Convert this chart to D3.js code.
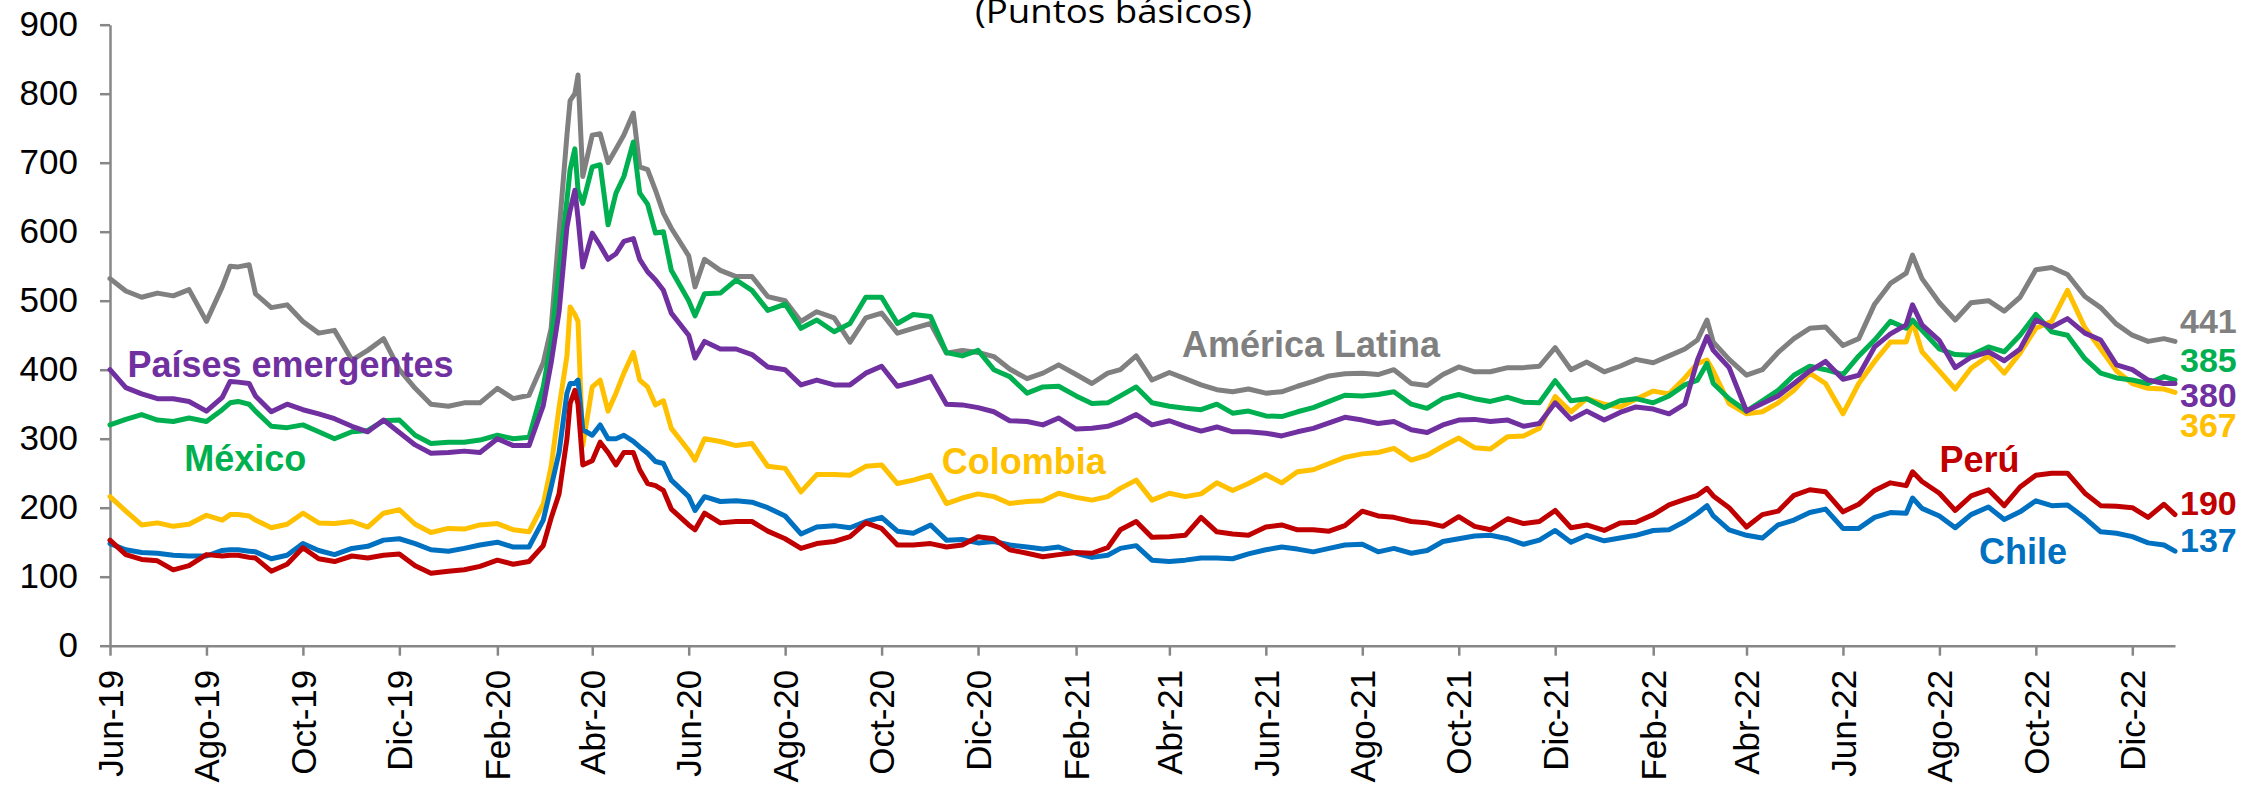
<!DOCTYPE html>
<html><head><meta charset="utf-8">
<script src="https://cdn.jsdelivr.net/npm/d3@7"></script>
<style>body{margin:0;background:#fff}svg{display:block}</style>
</head><body><svg id="c" width="2242" height="785"></svg>
<script>
const dates = [
"2019-06-01","2019-06-11","2019-06-21","2019-07-01","2019-07-11","2019-07-21","2019-08-01","2019-08-11","2019-08-16","2019-08-21","2019-08-28","2019-09-01","2019-09-11","2019-09-21","2019-10-01","2019-10-11","2019-10-21","2019-11-01","2019-11-11","2019-11-21","2019-12-01","2019-12-11","2019-12-21",
"2020-01-01","2020-01-11","2020-01-21","2020-02-01","2020-02-11","2020-02-21","2020-03-01","2020-03-06","2020-03-11","2020-03-16","2020-03-18","2020-03-21","2020-03-23","2020-03-26","2020-04-01","2020-04-06","2020-04-11","2020-04-16","2020-04-21","2020-04-27","2020-05-01","2020-05-06","2020-05-11","2020-05-16","2020-05-21","2020-06-01","2020-06-05","2020-06-11","2020-06-21","2020-07-01","2020-07-11","2020-07-21","2020-08-01","2020-08-11","2020-08-21","2020-09-01","2020-09-11","2020-09-21","2020-10-01","2020-10-11","2020-10-21","2020-11-01","2020-11-11","2020-11-21","2020-12-01","2020-12-11","2020-12-21",
"2021-01-01","2021-01-11","2021-01-21","2021-02-01","2021-02-11","2021-02-21","2021-03-01","2021-03-11","2021-03-21","2021-04-01","2021-04-11","2021-04-21","2021-05-01","2021-05-11","2021-05-21","2021-06-01","2021-06-11","2021-06-21","2021-07-01","2021-07-11","2021-07-21","2021-08-01","2021-08-11","2021-08-21","2021-09-01","2021-09-11","2021-09-21","2021-10-01","2021-10-11","2021-10-21","2021-11-01","2021-11-11","2021-11-21","2021-12-01","2021-12-11","2021-12-21",
"2022-01-01","2022-01-11","2022-01-21","2022-02-01","2022-02-11","2022-02-21","2022-03-01","2022-03-07","2022-03-11","2022-03-21","2022-04-01","2022-04-11","2022-04-21","2022-05-01","2022-05-11","2022-05-21","2022-06-01","2022-06-11","2022-06-21","2022-07-01","2022-07-11","2022-07-15","2022-07-21","2022-08-01","2022-08-11","2022-08-21","2022-09-01","2022-09-11","2022-09-21","2022-10-01","2022-10-11","2022-10-21","2022-11-01","2022-11-11","2022-11-21","2022-12-01","2022-12-11","2022-12-21","2022-12-28"
];

const americaLatina = [
532,514,505,511,507,516,470,520,550,549,552,510,490,494,470,453,457,414,428,445,400,373,350,
347,352,352,373,358,363,410,460,600,740,790,800,827,680,740,742,700,720,740,772,694,690,660,627,605,565,520,560,544,535,535,506,500,470,484,475,440,475,482,453,460,467,424,428,425,419,401,
387,395,407,393,380,395,400,420,385,396,387,378,371,368,372,366,368,376,383,391,394,395,393,400,380,377,393,404,397,397,403,403,405,432,400,411,
397,405,415,410,420,430,443,472,440,415,392,400,425,445,460,462,435,445,495,525,540,566,532,497,472,497,500,485,505,545,548,538,506,490,466,450,441,445,441
];

const mexico = [
320,328,335,327,325,330,325,342,352,354,350,340,318,316,320,310,300,310,312,326,327,305,293,
295,295,298,305,300,302,375,440,545,646,690,720,660,641,694,697,610,656,680,730,656,640,598,600,544,500,478,510,511,530,515,486,495,460,472,455,467,505,505,467,480,477,425,420,428,400,390,
366,375,376,362,351,352,362,375,352,347,344,342,350,337,340,333,332,339,345,354,363,362,364,368,350,344,358,364,358,354,360,353,352,384,355,358,
345,355,358,352,362,378,385,409,380,358,340,355,370,392,405,400,393,420,443,470,460,472,457,430,422,421,433,426,450,480,455,450,416,395,388,385,380,390,385
];

const paisesEmergentes = [
400,374,365,358,358,354,340,360,383,382,380,362,339,350,342,336,329,318,310,327,309,291,279,
280,282,280,300,290,290,348,410,484,607,631,660,620,549,598,580,560,568,586,590,560,542,530,515,482,450,417,441,430,430,422,404,400,378,385,378,378,395,405,376,382,390,350,349,345,339,326,
325,320,330,314,315,318,324,335,320,326,318,311,317,310,310,308,304,310,315,323,331,327,322,325,313,309,320,327,328,325,327,318,322,352,328,340,
327,338,346,343,336,350,414,448,428,403,340,351,362,380,398,412,386,392,433,452,465,494,465,442,403,418,426,413,430,472,462,474,453,443,407,400,385,380,380
];

const colombia = [
216,195,175,178,173,176,189,182,190,190,188,182,171,176,192,178,177,180,172,192,197,176,164,
170,169,175,177,168,165,205,260,345,420,491,480,470,290,375,385,340,366,395,425,385,375,349,355,315,283,269,300,296,290,293,260,257,223,248,248,247,260,262,235,240,247,206,214,220,216,206,
209,210,221,215,211,216,228,240,211,221,216,220,236,225,235,248,236,252,255,264,273,278,280,286,269,276,289,301,287,285,303,304,315,361,339,358,
350,346,357,369,365,388,409,414,398,351,336,339,352,370,395,380,336,380,412,440,440,470,426,398,372,402,420,395,424,460,470,515,461,430,398,380,373,372,367
];

const chile = [
148,139,135,134,131,130,130,138,139,139,137,136,126,131,148,138,132,141,144,153,155,148,139,
137,141,146,150,143,143,182,230,280,366,380,380,385,313,305,320,300,300,305,296,288,279,267,264,240,216,196,216,209,210,208,200,188,162,172,174,171,180,186,166,163,175,153,154,149,151,146,
143,140,143,134,128,131,141,145,124,122,124,127,127,126,133,139,143,140,136,141,146,147,136,141,134,138,151,155,159,160,155,147,153,167,150,160,
152,156,160,167,168,180,192,203,188,168,160,156,175,182,193,198,170,170,186,193,192,214,199,188,171,190,201,183,194,210,203,204,185,165,163,158,149,146,137
];

const peru = [
153,132,125,123,110,116,132,130,131,131,128,127,108,118,142,126,122,130,127,131,133,116,105,
108,110,115,124,118,122,145,185,220,300,351,370,350,262,268,295,280,262,280,280,255,235,232,225,198,175,168,192,178,180,180,166,155,141,148,151,158,178,170,146,146,148,143,146,158,155,139,
134,129,132,135,134,142,168,180,157,158,160,186,165,162,160,172,175,168,168,166,174,195,188,186,180,178,173,187,173,168,184,177,180,196,171,175,
167,178,179,190,204,212,218,228,217,200,172,190,195,218,226,223,194,205,225,236,232,252,238,221,196,217,226,203,230,247,250,250,221,203,202,200,186,205,190
];

const monthNames = ["Ene","Feb","Mar","Abr","May","Jun","Jul","Ago","Sep","Oct","Nov","Dic"];
const yTicks = [0,100,200,300,400,500,600,700,800,900];
const titleText = "(Puntos básicos)";

const series = [
  {key:"americaLatina", label:"América Latina", values:americaLatina, color:"#808080"},
  {key:"colombia", label:"Colombia", values:colombia, color:"#FFC000"},
  {key:"mexico", label:"México", values:mexico, color:"#00B050"},
  {key:"chile", label:"Chile", values:chile, color:"#0070C0"},
  {key:"peru", label:"Perú", values:peru, color:"#C00000"},
  {key:"paisesEmergentes", label:"Países emergentes", values:paisesEmergentes, color:"#7030A0"}
];

const parse = d3.utcParse("%Y-%m-%d");
const D = dates.map(parse);
const svg = d3.select("#c");
const FONT = "'Liberation Sans', Arial, sans-serif";

const x = d3.scaleUtc().domain([D[0], D[D.length-1]]).range([110, 2175]);
const y = d3.scaleLinear().domain([0, 900]).range([645.7, 24.7]);

// title
svg.append("text").attr("x", 1113.5).attr("y", 23)
  .attr("text-anchor","middle").attr("font-family","'Open Sans','Noto Sans',sans-serif")
  .attr("font-size", 33).attr("textLength", 277).attr("lengthAdjust","spacingAndGlyphs")
  .attr("fill","#000").text(titleText);

// axes
const axisColor = "#878787";
const yAxis = d3.axisLeft(y).tickValues(yTicks).tickSize(10).tickSizeOuter(0).tickPadding(22);
const gy = svg.append("g").attr("transform","translate(110,0)").call(yAxis);
gy.selectAll("text").attr("font-size", 35).attr("font-family", FONT).attr("fill","#000");

const xTicks = d3.utcMonth.range(parse("2019-06-01"), D[D.length-1], 2);
const fmt = d => monthNames[d.getUTCMonth()] + "-" + String(d.getUTCFullYear()).slice(2);
const xAxis = d3.axisBottom(x).tickValues(xTicks).tickFormat(fmt).tickSize(10).tickSizeOuter(0);
const gx = svg.append("g").attr("transform","translate(0,645.7)").call(xAxis);
gx.selectAll("text")
  .attr("transform","rotate(-90)").attr("x",-24).attr("y",0).attr("dy","0.35em")
  .attr("text-anchor","end").attr("font-size",35).attr("font-family",FONT).attr("fill","#000");

[gx, gy].forEach(g => {
  g.select(".domain").attr("stroke", axisColor).attr("stroke-width", 2.5);
  g.selectAll(".tick line").attr("stroke", axisColor).attr("stroke-width", 2.5);
});

// lines
const line = d3.line().x((d,i) => x(D[i])).y(d => y(d));
svg.append("g").selectAll("path").data(series).join("path")
  .attr("d", s => line(s.values))
  .attr("fill","none").attr("stroke", s => s.color)
  .attr("stroke-width", 5).attr("stroke-linejoin","round").attr("stroke-linecap","round");

// inline labels (anchored in data space)
const colorOf = k => series.find(s => s.key === k).color;
const labels = [
  {key:"paisesEmergentes", text:"Países emergentes", date:"2019-06-12", value:389},
  {key:"mexico", text:"México", date:"2019-07-18", value:253},
  {key:"colombia", text:"Colombia", date:"2020-11-08", value:249},
  {key:"americaLatina", text:"América Latina", date:"2021-04-09", value:418},
  {key:"peru", text:"Perú", date:"2022-08-01", value:252},
  {key:"chile", text:"Chile", date:"2022-08-26", value:118}
];
svg.append("g").selectAll("text").data(labels).join("text")
  .attr("x", d => x(parse(d.date))).attr("y", d => y(d.value))
  .attr("font-family", FONT).attr("font-weight","bold").attr("font-size", 36)
  .attr("fill", d => colorOf(d.key)).text(d => d.text);

// end values
const endLabels = [
  {key:"americaLatina", value:453},
  {key:"mexico", value:397},
  {key:"paisesEmergentes", value:346},
  {key:"colombia", value:302},
  {key:"peru", value:189},
  {key:"chile", value:136}
];
const xEnd = x(D[D.length-1]) + 5;
svg.append("g").selectAll("text").data(endLabels).join("text")
  .attr("x", xEnd).attr("y", d => y(d.value))
  .attr("font-family", FONT).attr("font-weight","bold").attr("font-size", 34)
  .attr("fill", d => colorOf(d.key))
  .text(d => { const s = series.find(q => q.key === d.key); return s.values[s.values.length-1]; });
</script>
</body></html>
